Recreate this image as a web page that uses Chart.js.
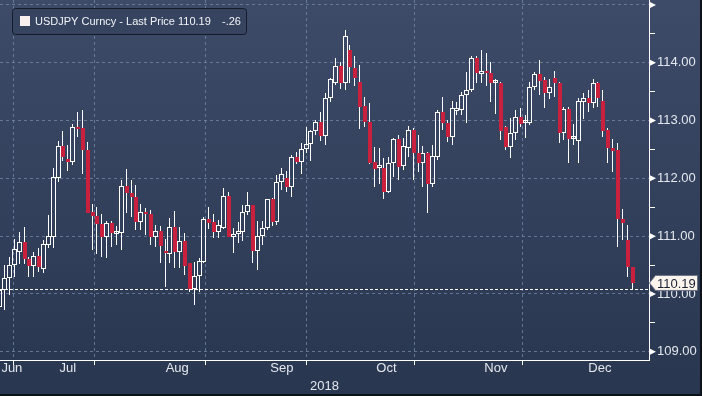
<!DOCTYPE html>
<html>
<head>
<meta charset="utf-8">
<script src="https://cdn.jsdelivr.net/npm/chart.js@4.4.1/dist/chart.umd.min.js"></script>
<style>
  html, body { margin: 0; padding: 0; background: #2f3d5a; }
  #wrap { width: 702px; height: 396px; }
</style>
</head>
<body>
<div id="wrap"><canvas id="fxChart" width="702" height="396"></canvas></div>
<script>
// USDJPY daily bars, end of June to late December 2018 (one entry per weekday)
const opens = [
  109.77, 110.07, 110.28, 110.50, 110.72, 110.90, 110.60, 110.48, 110.66, 110.43,
  110.85, 110.98, 112.01, 112.56, 112.33, 112.28, 112.89, 112.87, 112.49, 111.42,
  111.35, 111.21, 110.98, 111.23, 111.04, 111.05, 111.87, 111.75, 111.68, 111.24,
  111.42, 111.38, 110.98, 111.09, 110.74, 110.69, 111.16, 110.72, 110.92, 110.53,
  110.08, 110.31, 110.55, 111.30, 111.24, 111.07, 111.14, 111.69, 110.98, 111.04,
  111.07, 111.42, 111.54, 110.74, 111.00, 111.14, 111.64, 111.24, 111.94, 112.01,
  111.85, 112.37, 112.28, 112.51, 112.59, 112.82, 112.97, 112.73, 113.39, 113.65,
  113.94, 113.65, 114.22, 113.91, 113.67, 113.25, 112.97, 112.28, 112.18, 112.18,
  111.76, 112.27, 112.68, 112.21, 112.52, 112.84, 112.44, 112.27, 112.44, 111.90,
  112.37, 113.15, 112.96, 112.71, 113.16, 113.18, 113.44, 113.53, 114.08, 113.80,
  113.86, 113.82, 113.65, 113.65, 112.89, 112.54, 112.78, 113.06, 112.96, 112.96,
  113.58, 113.80, 113.70, 113.48, 113.74, 113.65, 112.78, 113.20, 112.68, 112.65,
  113.32, 113.39, 113.30, 113.65, 113.34, 112.84, 112.52, 112.49, 111.30, 110.93,
  110.47
];
const highs = [
  110.21, 110.50, 110.64, 110.95, 111.07, 111.16, 110.64, 110.72, 110.79, 110.93,
  111.37, 112.18, 112.65, 112.82, 112.58, 112.94, 113.15, 113.18, 112.63, 111.56,
  111.50, 111.38, 111.26, 111.26, 111.18, 111.97, 112.16, 111.97, 111.88, 111.56,
  111.49, 111.45, 111.19, 111.18, 110.95, 111.31, 111.43, 111.16, 111.05, 110.53,
  110.55, 110.62, 111.33, 111.50, 111.38, 111.28, 111.83, 111.76, 111.14, 111.24,
  111.54, 111.76, 111.54, 111.26, 111.26, 111.64, 111.66, 112.06, 112.18, 112.13,
  112.40, 112.46, 112.61, 112.89, 112.84, 113.01, 113.15, 113.48, 113.74, 114.08,
  114.01, 114.57, 114.31, 114.12, 113.96, 113.41, 113.30, 112.54, 112.52, 112.35,
  112.37, 112.70, 112.75, 112.70, 112.91, 112.87, 112.75, 112.56, 112.46, 112.58,
  113.18, 113.41, 113.01, 113.34, 113.32, 113.49, 113.84, 114.12, 114.12, 114.22,
  114.17, 114.01, 113.72, 113.67, 112.91, 113.04, 113.18, 113.22, 113.10, 113.67,
  113.84, 114.05, 113.75, 113.72, 113.86, 113.67, 113.23, 113.23, 112.94, 113.39,
  113.48, 113.53, 113.72, 113.67, 113.53, 112.87, 112.68, 112.61, 111.47, 111.19,
  110.47
];
const lows = [
  109.38, 109.72, 109.98, 110.29, 110.52, 110.52, 110.29, 110.29, 110.38, 110.36,
  110.79, 110.79, 111.94, 112.30, 112.13, 112.23, 112.71, 112.07, 111.40, 110.76,
  110.69, 110.64, 110.62, 110.81, 110.85, 110.76, 111.40, 111.33, 111.11, 111.11,
  111.02, 110.85, 110.81, 110.53, 110.12, 110.53, 110.45, 110.45, 110.33, 110.03,
  109.81, 110.03, 110.53, 111.12, 110.97, 110.97, 111.12, 110.98, 110.71, 110.88,
  110.92, 111.37, 110.53, 110.41, 110.85, 111.11, 111.18, 111.19, 111.80, 111.76,
  111.68, 112.25, 112.07, 112.44, 112.30, 112.75, 112.65, 112.58, 113.32, 113.61,
  113.55, 113.53, 113.65, 113.60, 112.85, 112.89, 112.25, 111.85, 111.90, 111.64,
  111.75, 112.02, 111.97, 112.14, 112.37, 111.97, 112.11, 111.85, 111.40, 111.85,
  112.32, 112.84, 112.63, 112.58, 113.10, 113.10, 112.96, 113.49, 113.65, 113.65,
  113.60, 113.32, 113.11, 112.66, 112.49, 112.35, 112.66, 112.89, 112.70, 112.92,
  113.53, 113.44, 113.22, 113.37, 113.41, 112.61, 112.66, 112.27, 112.58, 112.27,
  113.03, 113.15, 113.22, 113.23, 112.71, 112.27, 112.11, 110.81, 110.93, 110.29,
  110.07
];
const closes = [
  110.07, 110.28, 110.50, 110.78, 110.90, 110.60, 110.48, 110.66, 110.47, 110.86,
  111.00, 112.02, 112.56, 112.37, 112.28, 112.89, 112.85, 112.49, 111.40, 111.35,
  111.21, 110.98, 111.23, 111.05, 111.05, 111.87, 111.75, 111.68, 111.24, 111.42,
  111.38, 110.98, 111.09, 110.83, 110.71, 111.16, 110.72, 110.92, 110.48, 110.08,
  110.31, 110.57, 111.30, 111.23, 111.07, 111.19, 111.69, 110.98, 111.04, 111.07,
  111.42, 111.54, 110.74, 111.00, 111.14, 111.64, 111.24, 111.94, 112.07, 111.85,
  112.37, 112.28, 112.51, 112.59, 112.82, 112.97, 112.73, 113.39, 113.72, 113.94,
  113.65, 114.46, 113.93, 113.74, 113.23, 112.97, 112.27, 112.16, 112.21, 111.76,
  112.27, 112.68, 112.20, 112.56, 112.84, 112.44, 112.27, 112.44, 111.90, 112.39,
  113.15, 112.96, 112.71, 113.22, 113.20, 113.44, 113.53, 114.08, 113.82, 113.86,
  113.82, 113.65, 113.67, 112.82, 112.54, 112.78, 113.06, 112.94, 112.97, 113.58,
  113.80, 113.68, 113.48, 113.58, 113.65, 112.78, 113.20, 112.68, 112.70, 113.34,
  113.39, 113.30, 113.65, 113.39, 112.82, 112.52, 112.47, 111.30, 111.23, 110.47,
  110.19
];

// x axis: bar index of the first trading day of each month, and label positions
const monthStarts = [3, 25, 48, 68, 91, 113];
const monthNames = ['Jun', 'Jul', 'Aug', 'Sep', 'Oct', 'Nov', 'Dec'];
const monthLabelAt = [2.5, 14, 36.5, 58, 79.5, 102, 123.4];
const yearLabel = '2018';

// y axis levels (whole numbers get a label, halves only a tick)
const priceLevels = [109, 109.5, 110, 110.5, 111, 111.5, 112, 112.5, 113, 113.5, 114, 114.5, 115];

const seriesName = 'USDJPY Curncy - Last Price';
const lastPrice = 110.19;
const netChange = '-.26';
const dashLevel = 110.09;

const RED = '#c8203d';
const GRID = 'rgba(118,138,170,0.75)';
const TEXT = '#e4e8ee';
const FONT = "'Liberation Sans', Arial, sans-serif";

const idx = opens.map((_, i) => i);
const upperWicks = idx.map(i => ({ x: i, y: [Math.max(opens[i], closes[i]), highs[i]] }));
const lowerWicks = idx.map(i => ({ x: i, y: [lows[i], Math.min(opens[i], closes[i])] }));
const upBodies = idx.filter(i => closes[i] >= opens[i]).map(i => ({ x: i, y: [opens[i], closes[i]] }));
const downBodies = idx.filter(i => closes[i] < opens[i]).map(i => ({ x: i, y: [closes[i], opens[i]] }));

const xTickValues = monthStarts.concat(monthLabelAt).sort((a, b) => a - b);

const bbgDecor = {
  id: 'bbgDecor',
  beforeDraw(chart) {
    const { ctx, width, height } = chart;
    const g = ctx.createLinearGradient(0, 0, 0, height);
    g.addColorStop(0, '#3d4b69');
    g.addColorStop(1, '#28364f');
    ctx.save();
    ctx.fillStyle = g;
    ctx.fillRect(0, 0, width, height);
    ctx.restore();
  },
  // snap candles to whole pixels so the thin wicks stay crisp
  beforeDatasetsDraw(chart) {
    chart.data.datasets.forEach((ds, di) => {
      chart.getDatasetMeta(di).data.forEach(el => {
        el.x = ds.barThickness === 4 ? Math.floor(el.x) + 1 : Math.floor(el.x) + 0.5;
        el.y = Math.round(el.y);
        el.base = Math.round(el.base);
      });
    });
  },
  afterDatasetsDraw(chart) {
    const { ctx, chartArea } = chart;
    const y = Math.round(chart.scales.y.getPixelForValue(dashLevel)) + 0.5;
    ctx.save();
    ctx.strokeStyle = '#ffffff';
    ctx.lineWidth = 1;
    ctx.setLineDash([3, 2]);
    ctx.beginPath();
    ctx.moveTo(chartArea.left, y);
    ctx.lineTo(chartArea.right, y);
    ctx.stroke();
    ctx.restore();
  },
  afterDraw(chart) {
    const { ctx, chartArea, width, height } = chart;
    const ys = chart.scales.y;
    ctx.save();

    // white arrow heads on the whole-number ticks
    ctx.fillStyle = '#ffffff';
    priceLevels.filter(v => Number.isInteger(v)).forEach(v => {
      const y = ys.getPixelForValue(v);
      ctx.beginPath();
      ctx.moveTo(chartArea.right, y - 3.5);
      ctx.lineTo(chartArea.right + 7, y);
      ctx.lineTo(chartArea.right, y + 3.5);
      ctx.closePath();
      ctx.fill();
    });

    // last price tag
    const ty = ys.getPixelForValue(lastPrice);
    const tx = chartArea.right;
    ctx.beginPath();
    ctx.moveTo(tx + 0.5, ty);
    ctx.lineTo(tx + 6.5, ty - 7.5);
    ctx.lineTo(width - 4.5, ty - 7.5);
    ctx.lineTo(width - 4.5, ty + 7.5);
    ctx.lineTo(tx + 6.5, ty + 7.5);
    ctx.closePath();
    ctx.fillStyle = '#fbf4ec';
    ctx.fill();
    ctx.strokeStyle = '#6b7386';
    ctx.lineWidth = 1;
    ctx.stroke();
    ctx.fillStyle = '#1b2233';
    ctx.font = '13px ' + FONT;
    ctx.textBaseline = 'middle';
    ctx.textAlign = 'left';
    ctx.fillText(lastPrice.toFixed(2), tx + 8, ty + 1);

    // legend box
    ctx.beginPath();
    ctx.roundRect(12.5, 8.5, 234, 26, 3);
    ctx.fillStyle = '#364460';
    ctx.fill();
    ctx.strokeStyle = '#141b2a';
    ctx.stroke();
    ctx.fillStyle = '#f9efee';
    ctx.fillRect(20, 16, 10, 10);
    ctx.fillStyle = '#f2f4f7';
    ctx.font = '11px ' + FONT;
    ctx.fillText(seriesName, 35, 22);
    ctx.fillText(lastPrice.toFixed(2), 178, 22);
    ctx.fillText(netChange, 222, 22);

    // frame on the right and bottom edges
    ctx.strokeStyle = '#0d1119';
    ctx.lineWidth = 2;
    ctx.beginPath();
    ctx.moveTo(width - 1, 0);
    ctx.lineTo(width - 1, height - 1);
    ctx.lineTo(0, height - 1);
    ctx.stroke();
    ctx.restore();
  }
};

const ctx = document.getElementById('fxChart').getContext('2d');
new Chart(ctx, {
  type: 'bar',
  data: {
    datasets: [
      { data: upperWicks, backgroundColor: '#ffffff', barThickness: 1, order: 3 },
      { data: lowerWicks, backgroundColor: '#ffffff', barThickness: 1, order: 3 },
      { data: downBodies, backgroundColor: RED, borderColor: RED, borderWidth: 0, barThickness: 4, minBarLength: 2, order: 1 },
      { data: upBodies, backgroundColor: 'rgba(0,0,0,0)', borderColor: '#ffffff', borderWidth: 1,
        borderSkipped: false, barThickness: 5, minBarLength: 3, order: 1 }
    ]
  },
  options: {
    responsive: false,
    animation: false,
    devicePixelRatio: 1,
    layout: { padding: 0 },
    datasets: { bar: { grouped: false, inflateAmount: 0 } },
    plugins: { legend: { display: false }, tooltip: { enabled: false } },
    scales: {
      x: {
        type: 'linear',
        min: 0.062,
        max: 133.49,
        offset: false,
        afterBuildTicks: s => { s.ticks = xTickValues.map(v => ({ value: v })); },
        afterFit: s => { s.height = 36; s.paddingLeft = 0; s.paddingRight = 0; },
        grid: {
          color: c => monthStarts.includes(c.tick && c.tick.value) ? GRID : 'rgba(0,0,0,0)',
          tickColor: c => monthStarts.includes(c.tick && c.tick.value) ? '#ffffff' : 'rgba(0,0,0,0)',
          tickLength: 5,
          tickBorderDash: []
        },
        border: { color: '#ffffff', width: 1, dash: [3, 3] },
        ticks: {
          autoSkip: false,
          maxRotation: 0,
          padding: -4,
          color: TEXT,
          font: { family: FONT, size: 13 },
          callback: v => {
            const k = monthLabelAt.indexOf(v);
            return k >= 0 ? monthNames[k] : '';
          }
        },
        title: {
          display: true,
          text: yearLabel,
          color: TEXT,
          font: { family: FONT, size: 13 },
          padding: { top: 0, bottom: 2 }
        }
      },
      y: {
        type: 'linear',
        position: 'right',
        min: 108.857,
        max: 115.085,
        afterBuildTicks: s => { s.ticks = priceLevels.map(v => ({ value: v })); },
        afterFit: s => { s.width = 53; s.paddingTop = 0; s.paddingBottom = 0; },
        grid: {
          color: c => (c.tick && Number.isInteger(c.tick.value)) ? GRID : 'rgba(0,0,0,0)',
          tickColor: c => (c.tick && Number.isInteger(c.tick.value)) ? 'rgba(0,0,0,0)' : '#ffffff',
          tickLength: 6,
          tickBorderDash: []
        },
        border: { color: '#ffffff', width: 1, dash: [3, 3] },
        ticks: {
          padding: 2,
          color: TEXT,
          font: { family: FONT, size: 13 },
          callback: v => (Number.isInteger(v) && v < 115) ? v.toFixed(2) : ''
        }
      }
    }
  },
  plugins: [bbgDecor]
});
</script>
</body>
</html>
